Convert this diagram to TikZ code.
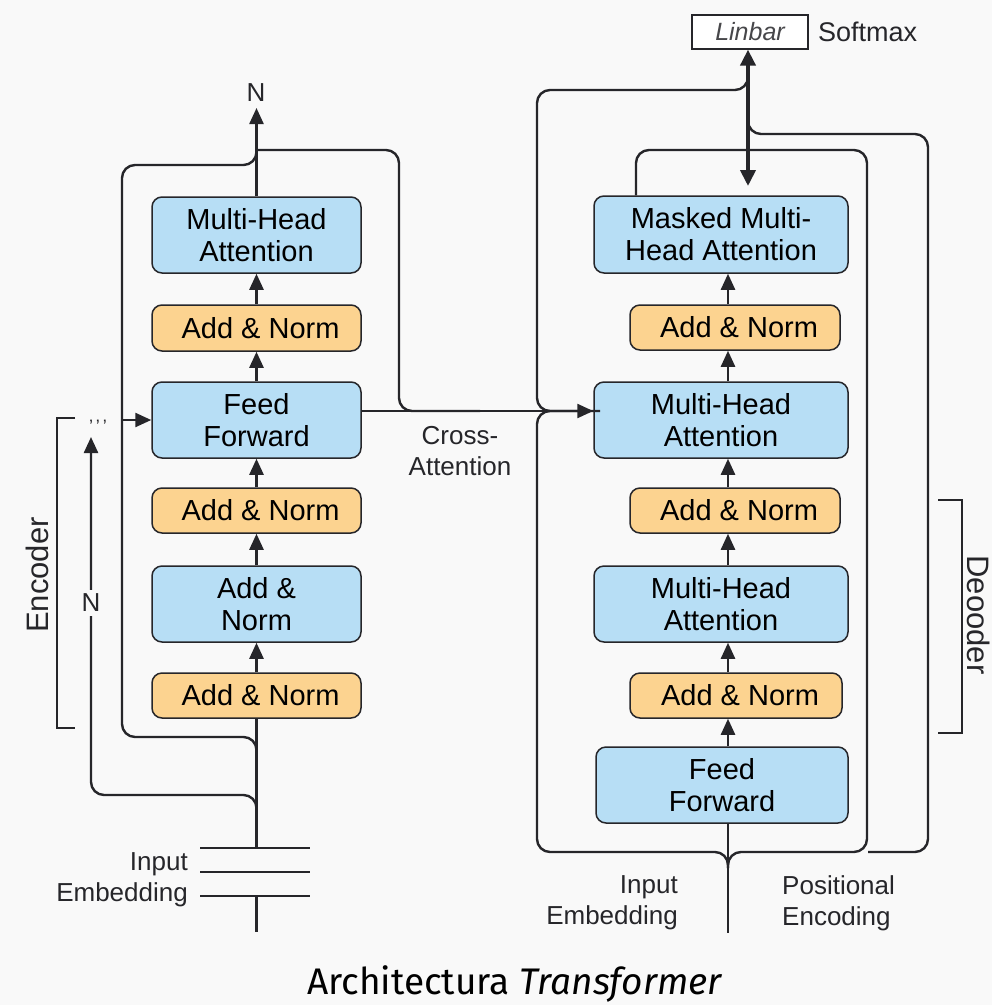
\documentclass[tikz,border=0pt]{standalone}
\usepackage{fontspec}
\setmainfont{Liberation Sans}
\newfontfamily\titlefont{Fira Sans}
\usetikzlibrary{arrows.meta}
\definecolor{ColBlue}{RGB}{183,222,245}
\definecolor{ColNorm}{RGB}{252,211,144}
\definecolor{ColLine}{RGB}{38,38,42}
\definecolor{ColBack}{RGB}{249,249,249}
\tikzstyle{BlockBlue}=[rounded corners=10pt,draw=ColLine,fill=ColBlue,line width=1.5pt,
align=center,inner sep=0pt,font=\fontsize{29}{32}\selectfont]
\tikzstyle{BlockNorm}=[BlockBlue,fill=ColNorm]
\tikzstyle{EdgeFlow}=[ColLine,line width=2.4pt,rounded corners=13pt]
\tikzstyle{EdgeArrow}=[EdgeFlow,-{Triangle[length=16pt,width=14pt]}]
\tikzstyle{EdgeBracket}=[ColLine,line width=1.6pt]
\tikzstyle{LabelText}=[text=ColLine,inner sep=0pt,font=\fontsize{26}{31}\selectfont]

\begin{document}
\begin{tikzpicture}[x=1pt,y=-1pt]
        \useasboundingbox[fill=ColBack](0,0)rectangle(992,1005);
        % encoder stack
        \node[BlockBlue,minimum width=209,minimum height=76](e1)at(256.5,235){Multi-Head\\Attention};
        \node[BlockNorm,minimum width=209,minimum height=46](e1n)at(256.5,328){\ Add \& Norm};
        \node[BlockBlue,minimum width=209,minimum height=76](e2)at(256.5,420){Feed\\Forward};
        \node[BlockNorm,minimum width=209,minimum height=45](e3)at(256.5,510.5){\ Add \& Norm};
        \node[BlockBlue,minimum width=209,minimum height=76](e4)at(256.5,604){Add \&\\Norm};
        \node[BlockNorm,minimum width=209,minimum height=45](e5)at(256.5,695.5){\ Add \& Norm};
        \coordinate(encLoop)at(122,0);
        \coordinate(embTop)at(256.5,848);
        \foreach \a/\b in {e5/e4,e4/e3,e3/e2,e2/e1n,e1n/e1}
            \draw[EdgeArrow](\a.north)--(\b.south);
        \draw[EdgeFlow](embTop)--(e5.south);
        \draw[EdgeArrow](e1.north)--(256.5,108);
        \node[LabelText](nTop)at(256,93){N};
        % input embedding
        \foreach \y in {848,872,896}
            \draw[EdgeFlow](200,\y)--(310,\y);
        \draw[EdgeFlow](256.5,896)--(256.5,932);
        \node[LabelText,align=right,anchor=east](encIn)at(188,880){Input\\Embedding};
        % encoder residual paths
        \draw[EdgeFlow](256.5,148)--(256.5,165)--(122,165)--(122,737)--(256.5,737)--(256.5,752);
        \draw[EdgeArrow](e2.west-|encLoop)--(e2.west);
        \draw[EdgeArrow](256.5,812)--(256.5,795)--(91,795)--(91,437);
        \node[LabelText,fill=ColBack,inner sep=4pt](nLeft)at(91,603){N};
        \node[LabelText,font=\fontsize{18}{18}\selectfont](ticks)at(98,426){'\,'\,'};
        \draw[EdgeBracket](75,418)--(57,418)--(57,728)--(75,728);
        \node[LabelText,rotate=90,font=\fontsize{31}{31}\selectfont](encName)at(37,575){Encoder};
        % decoder stack
        \node[BlockBlue,minimum width=254,minimum height=77](d1)at(721,234.5){Masked Multi-\\Head Attention};
        \node[BlockNorm,minimum width=210,minimum height=45](d2)at(735,327.5){\ Add \& Norm};
        \node[BlockBlue,minimum width=254,minimum height=76](d3)at(721,420){Multi-Head\\Attention};
        \node[BlockNorm,minimum width=210,minimum height=45](d4)at(735,510.5){\ Add \& Norm};
        \node[BlockBlue,minimum width=254,minimum height=76](d5)at(721,604){Multi-Head\\Attention};
        \node[BlockNorm,minimum width=212,minimum height=45](d6)at(736,695.5){\ Add \& Norm};
        \node[BlockBlue,minimum width=252,minimum height=76](d7)at(722,785){Feed\\Forward};
        \coordinate(decCol)at(728,0);
        \foreach \a/\b in {d7/d6,d6/d5,d5/d4,d4/d3,d3/d2,d2/d1}
            \draw[EdgeArrow](\a.north-|decCol)--(\b.south-|decCol);
        \draw[EdgeFlow](d7.south-|decCol)--(728,933);
        \node[LabelText,align=right,anchor=east](decIn)at(678,903){Input\\Embedding};
        \node[LabelText,align=left,anchor=west](decPos)at(782,903){Positional\\Encoding};
        % cross-attention
        \draw[EdgeFlow](256.5,150)--(399,150)--(399,411)--(480,411);
        \draw[EdgeArrow]([yshift=9pt]e2.east)--([yshift=9pt]d3.west);
        \node[LabelText,align=center](cross)at(460,451){Cross-\\Attention};
        % decoder residual paths
        \draw[EdgeFlow](748,72)--(748,90)--(537,90)--(537,411)--(600,411);
        \draw[EdgeFlow](590,411)--(537,411)--(537,852)--(728,852)--(728,868);
        \draw[EdgeFlow](d1.north-|636,0)--(636,150)--(867,150)--(867,852)--(728,852)--(728,868);
        \draw[EdgeFlow](748,112)--(748,134)--(928,134)--(928,852)--(868,852);
        \draw[EdgeBracket](938,500)--(962,500)--(962,733)--(938,733);
        \node[LabelText,rotate=-90,font=\fontsize{31}{31}\selectfont](decName)at(979,615){Deooder};
        % output head
        \node[draw=ColLine,fill=white,line width=1.2pt,minimum width=116,minimum height=34,inner sep=0pt,
            text=ColLine!85,font=\fontsize{25}{25}\selectfont\itshape](lin)at(750,32){Linbar};
        \node[LabelText,anchor=west,font=\fontsize{27}{27}\selectfont](soft)at(818,32){Softmax};
        \draw[ColLine,line width=3.8pt,{Triangle[length=16pt,width=15pt]}-{Triangle[length=16pt,width=15pt]}]
            (lin.south-|748,0)--(748,186);
        % title
        \node[anchor=base,text=black,inner sep=0pt,font=\fontsize{37}{37}\titlefont](title)at(515,994)
            {Architectura \textit{Transformer}};
    \end{tikzpicture}
\end{document}
